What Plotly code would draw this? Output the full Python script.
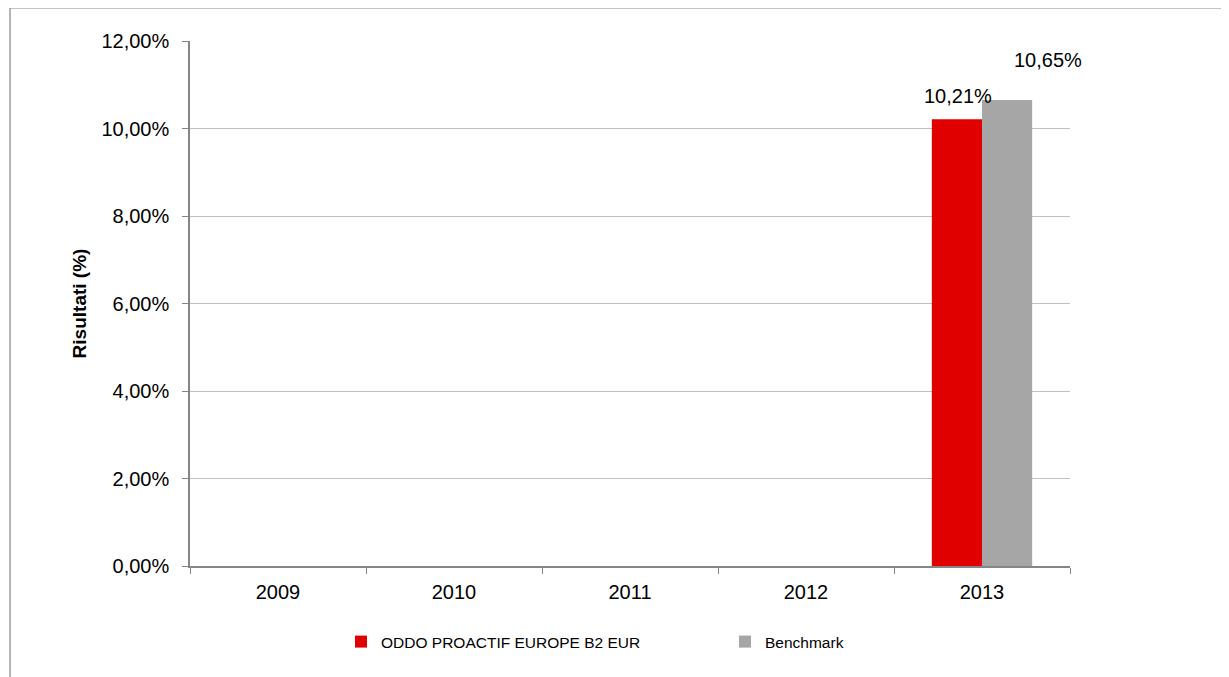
import plotly.graph_objects as go

years = ["2009", "2010", "2011", "2012", "2013"]
fund_name = "ODDO PROACTIF EUROPE B2 EUR"
bench_name = "Benchmark"
fund_values = [None, None, None, None, 10.21]
bench_values = [None, None, None, None, 10.65]
y_ticks = [0, 2, 4, 6, 8, 10, 12]
y_ticktext = [f"{v:.2f}".replace(".", ",") + "%" for v in y_ticks]

FONT = "Arial, Liberation Sans, sans-serif"

fig = go.Figure()
fig.add_trace(go.Bar(x=years, y=fund_values, name=fund_name,
                     marker=dict(color="#e00000", line=dict(width=0))))
fig.add_trace(go.Bar(x=years, y=bench_values, name=bench_name,
                     marker=dict(color="#a6a6a6", line=dict(width=0))))

# value labels (x given as category index so plotly does not read "2013" as a number)
for vals, xs, ys in [(fund_values, -24, 23), (bench_values, 66, 40)]:
    for i, v in enumerate(vals):
        if v is None:
            continue
        fig.add_annotation(x=i, y=v, xref="x", yref="y",
                           text=f"{v:.2f}".replace(".", ",") + "%",
                           showarrow=False, xshift=xs, yshift=ys,
                           xanchor="center", yanchor="middle",
                           font=dict(size=20, color="#000000", family=FONT))

# outer frame
fig.add_shape(type="rect", xref="paper", yref="paper",
              x0=-0.2045, x1=1.6, y0=-0.6, y1=1.0629,
              line=dict(color="#878787", width=1.2), layer="below")

fig.update_layout(
    width=1221, height=669,
    margin=dict(l=182, r=159, t=33, b=111),
    paper_bgcolor="white", plot_bgcolor="white",
    barmode="group", bargap=0.43, bargroupgap=0,
    font=dict(family=FONT, size=20, color="#000000"),
    showlegend=True,
    legend=dict(orientation="h", x=0.1716, y=-0.1448, xanchor="left", yanchor="middle",
                font=dict(size=15.5, family=FONT, color="#000000"),
                itemwidth=30, entrywidth=339, traceorder="normal",
                bgcolor="rgba(0,0,0,0)"),
)
fig.update_yaxes(range=[0, 12], tickmode="array", tickvals=y_ticks, ticktext=y_ticktext,
                 showgrid=True, gridcolor="#c0c0c0", gridwidth=1,
                 showline=True, linecolor="#868686", linewidth=1.5,
                 ticks="outside", ticklen=6, tickcolor="#868686",
                 ticklabelstandoff=9, zeroline=False,
                 title=dict(text="<b>Risultati (%)</b>", font=dict(size=19, family=FONT), standoff=10),
                 tickfont=dict(size=20, family=FONT))
fig.update_xaxes(type="category", categoryorder="array", categoryarray=years,
                 range=[-0.5, 4.5], tickangle=0,
                 showline=True, linecolor="#868686", linewidth=1.5,
                 ticks="outside", tickson="boundaries", ticklen=6, tickcolor="#868686",
                 ticklabelstandoff=7, showgrid=False, tickfont=dict(size=20, family=FONT))

fig.write_html("out.html")
